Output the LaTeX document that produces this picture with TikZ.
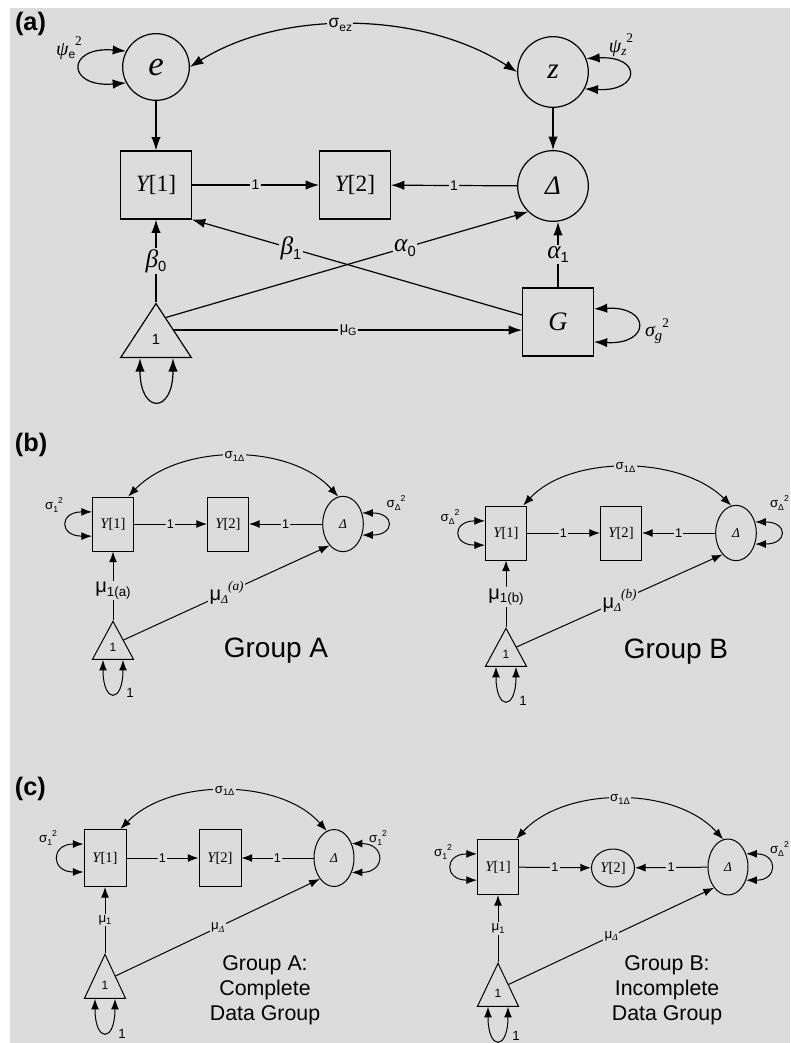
\documentclass[tikz,border=0pt]{standalone}
\usepackage{fontspec}
\setmainfont{Liberation Sans}
\newfontfamily\tms{Liberation Serif}
\usetikzlibrary{positioning,arrows.meta,calc,shapes.geometric}
\definecolor{bg}{RGB}{220,220,220}
\newcommand{\mvar}[1]{{\tms\itshape #1}}
\newcommand{\subx}[2]{\raisebox{-0.35ex}{\fontsize{#1}{#1}\selectfont #2}}
\newcommand{\supx}[2]{\raisebox{0.9ex}{\fontsize{#1}{#1}\selectfont #2}}
\newcommand{\fsz}[1]{\fontsize{#1}{#1}\selectfont}
\tikzset{
    latent/.style = {
        draw,
        shape=circle,
        inner sep=0pt,
        minimum size=53pt,
        font=\tms\itshape\fsz{20}
    },
    latentsm/.style = {
        draw,
        shape=ellipse,
        inner sep=0pt,
        minimum width=30.5pt,
        minimum height=41.5pt,
        font=\tms\itshape\fsz{10}
    },
    manifest/.style = {
        draw,
        shape=rectangle,
        inner sep=0pt,
        minimum width=53pt,
        minimum height=51pt,
        font=\tms\fsz{17.5}
    },
    manifestsm/.style = {
        draw,
        shape=rectangle,
        inner sep=0pt,
        minimum width=30.75pt,
        minimum height=40.5pt,
        font=\tms\fsz{11}
    },
    const/.style = {
        draw,
        shape=isosceles triangle,
        isosceles triangle stretches,
        shape border rotate=90,
        inner sep=0pt,
        anchor=apex
    },
    lbl/.style = {fill=bg, inner sep=1pt},
    panel/.style = {anchor=west, font=\bfseries\fsz{19}},
    grouptext/.style = {align=center, font=\fontsize{16}{18.75}\selectfont},
}

\begin{document}
\begin{tikzpicture}[x=0.75pt, y=-0.75pt, line width=0.9pt, >={Latex[length=10pt,width=7pt]}]
\useasboundingbox (0,0) rectangle (790,1043);
\fill[white] (0,0) rectangle (790,1043);
\fill[bg] (10,8) rectangle (790,1043);

% (a) full model
\node[panel] (pa) at (10,24) {(a)};
\node[latent, minimum size=50pt, font=\tms\itshape\fsz{26}] (e) at (156,67) {e};
\node[latent, font=\tms\itshape\fsz{22}] (z) at (553,72) {z};
\node[manifest] (y1a) at (156,185) {\mvar{Y}[1]};
\node[manifest] (y2a) at (355,185) {\mvar{Y}[2]};
\node[latent] (da) at (553,186) {Δ};
\node[manifest, font=\tms\itshape\fsz{20}] (ga) at (558,322) {G};
\node[const, minimum width=53pt, minimum height=40.5pt, font=\fsz{11}] (onea) at (156,302) {1};

\path[draw, ->] (e) -- (y1a);
\path[draw, ->] (z) -- (da);
\path[draw, ->] (y1a) -- (y2a) node [lbl, midway, font=\fsz{10.5}] {1};
\path[draw, ->] (da) -- (y2a) node [lbl, midway, font=\fsz{10.5}] {1};
\path[draw, <->] (e.east) .. controls (280,10) and (420,10) .. (z.west) node [lbl, pos=0.47, font=\fsz{13}] {σ\subx{9}{ez}};

\path[draw, <->] (e.152) .. controls +(-60,-5) and +(-60,5) .. (e.208);
\path[draw, <->] (z.22) .. controls +(56,-3) and +(56,3) .. (z.332);
\path[draw, <->] (ga.20) .. controls +(57,-3) and +(57,3) .. (ga.331);
\path[draw, <->] ($(onea.lower side)+(-16,0)$) .. controls +(0,56) and +(0,56) .. ($(onea.lower side)+(17,0)$);
\node[font=\fsz{15}] (psie) at (69,48) {\mvar{ψ}\subx{9}{e}\supx{10}{\tms 2}};
\node[font=\fsz{15}] (psiz) at (621,45) {\mvar{ψ}\subx{10}{\mvar{z}}\supx{10}{\tms 2}};
\node[font=\fsz{15}] (sigg) at (657,331) {\mvar{σ}\subx{11}{\mvar{g}}\supx{10}{\tms 2}};

\path[draw, ->] (onea.apex) -- (y1a.south) node [lbl, midway, font=\fsz{19}] {\mvar{β}\subx{11}{0}};
\path[draw, ->] (ga.169) -- (y1a.south east) node [lbl, pos=0.7, font=\fsz{19}] {\mvar{β}\subx{11}{1}};
\path[draw, ->] ($(onea.apex)!0.55!(onea.right side)$) -- (da.226) node [lbl, pos=0.66, font=\fsz{19}] {\mvar{α}\subx{11}{0}};
\path[draw, ->] (ga.north) -- (da.south -| ga.north) node [lbl, midway, font=\fsz{19}] {\mvar{α}\subx{11}{1}};
\path[draw, ->] (onea.right side) -- (onea.right side -| ga.west) node [lbl, midway, font=\fsz{11}] {μ\subx{8}{G}};

\begin{scope}[line width=0.75pt, >={Latex[length=8pt,width=6pt]}]
% (b) group A
\node[panel] (pb) at (10,445) {(b)};
\node[manifestsm] (y1b) at (113,524) {\mvar{Y}[1]};
\node[manifestsm] (y2b) at (228,524) {\mvar{Y}[2]};
\node[latentsm] (db) at (343,524) {Δ};
\node[const, minimum width=30.75pt, minimum height=28.5pt, font=\fsz{9}] (trib) at (113,620) {1};

\path[draw, ->] (y1b) -- (y2b) node [lbl, midway, font=\fsz{9.5}] {1};
\path[draw, ->] (db) -- (y2b) node [lbl, midway, font=\fsz{9.5}] {1};
\path[draw, <->] (y1b.61) .. controls (180,443) and (290,443) .. (db.100) node [lbl, midway, font=\fsz{10}] {σ\subx{7}{1Δ}};
\path[draw, <->] (y1b.150) .. controls +(-33,0) and +(-33,0) .. (y1b.210);
\path[draw, <->] (db.30) .. controls +(33,0) and +(33,0) .. (db.330);
\path[draw, <->] ($(trib.lower side)+(-10,0)$) .. controls +(0,44) and +(0,44) .. ($(trib.lower side)+(10,0)$);
\node[font=\fsz{10}] (s1b) at (54,505) {σ\subx{6.5}{1}\supx{6.5}{2}};
\node[font=\fsz{10}] (sdb) at (396,503) {σ\subx{6.5}{Δ}\supx{6.5}{2}};
\node[font=\fsz{10}] (oneb) at (130,693) {1};
\path[draw, ->] (trib.apex) -- (y1b.south) node [lbl, pos=0.43, font=\fsz{15}] {μ\subx{10}{1(a)}};
\path[draw, ->] (trib.right side) -- (db.238) node [lbl, midway, font=\fsz{15}] {μ\subx{9}{\mvar{Δ}}\supx{10}{\mvar{(a)}}};
\node[font=\fsz{21}] (grpa) at (276,651) {Group A};

% (b) group B
\node[manifestsm] (y1c) at (506,533) {\mvar{Y}[1]};
\node[manifestsm] (y2c) at (621,533) {\mvar{Y}[2]};
\node[latentsm] (dc) at (736,533) {Δ};
\node[const, minimum width=30.75pt, minimum height=28.5pt, font=\fsz{9}] (tric) at (506,627) {1};

\path[draw, ->] (y1c) -- (y2c) node [lbl, midway, font=\fsz{9.5}] {1};
\path[draw, ->] (dc) -- (y2c) node [lbl, midway, font=\fsz{9.5}] {1};
\path[draw, <->] (y1c.58) .. controls (570,455) and (680,455) .. (dc.100) node [lbl, midway, font=\fsz{10}] {σ\subx{7}{1Δ}};
\path[draw, <->] (y1c.150) .. controls +(-33,0) and +(-33,0) .. (y1c.210);
\path[draw, <->] (dc.30) .. controls +(33,0) and +(33,0) .. (dc.330);
\path[draw, <->] ($(tric.lower side)+(-10,0)$) .. controls +(0,44) and +(0,44) .. ($(tric.lower side)+(10,0)$);
\node[font=\fsz{10}] (s1c) at (450,517) {σ\subx{6.5}{Δ}\supx{6.5}{2}};
\node[font=\fsz{10}, anchor=east, inner sep=0.5pt] (sdc) at (790,503) {σ\subx{6.5}{Δ}\supx{6.5}{2}};
\node[font=\fsz{10}] (onec) at (523,701) {1};
\path[draw, ->] (tric.apex) -- (y1c.south) node [lbl, pos=0.45, font=\fsz{15}] {μ\subx{10}{1(b)}};
\path[draw, ->] (tric.right side) -- (dc.238) node [lbl, midway, font=\fsz{15}] {μ\subx{9}{\mvar{Δ}}\supx{10}{\mvar{(b)}}};
\node[font=\fsz{21}] (grpb) at (676,652) {Group B};

% (c) group A
\node[panel] (pc) at (10,789) {(c)};
\node[manifestsm, minimum width=31.5pt, minimum height=42.75pt] (y1d) at (105,858) {\mvar{Y}[1]};
\node[manifestsm, minimum width=31.5pt, minimum height=42.75pt] (y2d) at (220,858) {\mvar{Y}[2]};
\node[latentsm, minimum width=30pt, minimum height=42.75pt] (dd) at (334,858) {Δ};
\node[const, minimum width=30.75pt, minimum height=33pt, font=\fsz{9}] (trid) at (105,953) {1};

\path[draw, ->] (y1d) -- (y2d) node [lbl, midway, font=\fsz{9.5}] {1};
\path[draw, ->] (dd) -- (y2d) node [lbl, midway, font=\fsz{9.5}] {1};
\path[draw, <->] (y1d.62) .. controls (170,778) and (280,778) .. (dd.105) node [lbl, midway, font=\fsz{10}] {σ\subx{7}{1Δ}};
\path[draw, <->] (y1d.147) .. controls +(-33,0) and +(-33,0) .. (y1d.213);
\path[draw, <->] (dd.39) .. controls +(34,0) and +(34,0) .. (dd.321);
\path[draw, <->] ($(trid.lower side)+(-10,0)$) .. controls +(0,44) and +(0,44) .. ($(trid.lower side)+(10,0)$);
\node[font=\fsz{10}] (s1d) at (48,838) {σ\subx{6.5}{1}\supx{6.5}{2}};
\node[font=\fsz{10}] (sdd) at (378,838) {σ\subx{6.5}{1}\supx{6.5}{2}};
\node[font=\fsz{10}] (oned) at (122,1034) {1};
\path[draw, ->] (trid.apex) -- (y1d.south) node [lbl, midway, font=\fsz{10}] {μ\subx{7}{1}};
\path[draw, ->] (trid.right side) -- (dd.236) node [lbl, midway, font=\fsz{10}] {μ\subx{7}{\mvar{Δ}}};
\node[grouptext] (grpc) at (265,990) {Group A:\\Complete\\Data Group};

% (c) group B
\node[manifestsm, minimum height=41.25pt] (y1e) at (498,867) {\mvar{Y}[1]};
\node[latentsm, minimum width=32.25pt, minimum height=28.5pt, font=\tms\fsz{11}] (y2e) at (613,868) {\mvar{Y}[2]};
\node[latentsm, minimum width=30pt, minimum height=42pt] (de) at (728,867) {Δ};
\node[const, minimum width=30.75pt, minimum height=32.25pt, font=\fsz{9}] (trie) at (498,962) {1};

\path[draw, ->] (y1e) -- (y2e) node [lbl, midway, font=\fsz{9.5}] {1};
\path[draw, ->] (de) -- (y2e) node [lbl, midway, font=\fsz{9.5}] {1};
\path[draw, <->] (y1e.57) .. controls (565,786) and (675,786) .. (de.100) node [lbl, midway, font=\fsz{10}] {σ\subx{7}{1Δ}};
\path[draw, <->] (y1e.148) .. controls +(-33,0) and +(-33,0) .. (y1e.212);
\path[draw, <->] (de.36) .. controls +(32,0) and +(32,0) .. (de.324);
\path[draw, <->] ($(trie.lower side)+(-10,0)$) .. controls +(0,44) and +(0,44) .. ($(trie.lower side)+(10,0)$);
\node[font=\fsz{10}] (s1e) at (443,852) {σ\subx{6.5}{1}\supx{6.5}{2}};
\node[font=\fsz{10}, anchor=east, inner sep=0.5pt] (sde) at (790,849) {σ\subx{6.5}{Δ}\supx{6.5}{2}};
\node[font=\fsz{10}] (onee) at (516,1036) {1};
\path[draw, ->] (trie.apex) -- (y1e.south) node [lbl, midway, font=\fsz{10}] {μ\subx{7}{1}};
\path[draw, ->] (trie.right side) -- (de.236) node [lbl, midway, font=\fsz{10}] {μ\subx{7}{\mvar{Δ}}};
\node[grouptext] (grpd) at (667,990) {Group B:\\Incomplete\\Data Group};
\end{scope}
\end{tikzpicture}
\end{document}
